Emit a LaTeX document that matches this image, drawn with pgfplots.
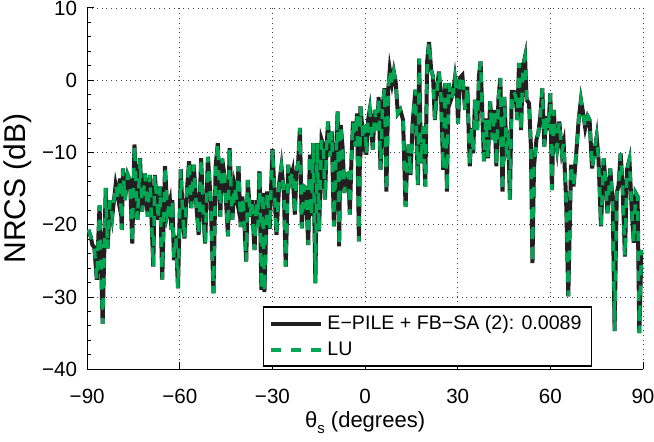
\documentclass[border=0pt]{standalone}
\usepackage{fontspec}
\setmainfont{Liberation Sans}
\usepackage{pgfplots}
\pgfplotsset{compat=1.18}
\usepackage{pgfplotstable}
\usetikzlibrary{calc}
\definecolor{luGreen}{RGB}{0,166,81}
\definecolor{pileBlack}{RGB}{35,31,32}

% NRCS vs scattering angle
\pgfplotstableread{
theta nrcs
-89.6 -20.7
-88.9 -21.6
-88.3 -22.8
-87.7 -23.1
-86.9 -27.6
-86.0 -17.3
-85.0 -33.7
-84.0 -14.9
-83.4 -23.3
-82.6 -16.6
-81.9 -18.9
-80.8 -14.5
-79.9 -16.6
-79.4 -13.6
-78.8 -20.7
-78.4 -12.2
-77.8 -16.6
-76.9 -13.1
-76.1 -14.0
-75.4 -22.6
-74.7 -8.9
-73.7 -19.3
-72.9 -10.8
-72.2 -18.2
-71.3 -12.9
-70.4 -18.9
-69.7 -13.1
-68.6 -25.8
-68.1 -13.1
-67.0 -19.3
-66.4 -14.7
-65.7 -27.6
-64.8 -11.9
-64.0 -18.4
-63.2 -16.8
-62.7 -20.7
-62.4 -16.6
-61.9 -24.9
-61.3 -21.5
-60.6 -28.8
-59.7 -12.3
-59.1 -18.4
-58.5 -21.9
-57.7 -15.2
-57.0 -11.2
-56.3 -17.7
-55.5 -11.7
-54.7 -17.0
-53.9 -21.4
-53.1 -10.8
-52.5 -17.9
-51.8 -22.6
-50.9 -10.6
-50.0 -16.6
-49.1 -29.5
-48.4 -11.9
-47.7 -8.7
-46.9 -18.9
-46.3 -10.8
-45.5 -13.3
-44.4 -21.6
-43.9 -9.4
-43.0 -19.3
-42.3 -14.7
-41.5 -16.6
-41.0 -11.9
-40.3 -20.3
-39.8 -16.1
-39.3 -17.9
-38.5 -25.1
-38.0 -13.8
-37.2 -18.9
-36.7 -16.6
-35.8 -23.5
-35.2 -16.6
-34.7 -20.3
-34.2 -12.6
-33.6 -29.0
-33.1 -15.6
-32.6 -29.3
-31.7 -15.4
-30.9 -20.6
-30.0 -9.5
-28.7 -21.4
-27.8 -14.2
-27.1 -11.9
-26.3 -15.6
-25.7 -25.8
-24.9 -11.7
-24.2 -13.8
-23.5 -12.6
-22.75 -18.6
-22.2 -12.6
-21.7 -11.5
-21.1 -6.6
-20.5 -20.5
-19.8 -14.7
-19.2 -14.9
-18.4 -22.8
-17.9 -10.3
-17.4 -18.8
-16.8 -8.7
-16.1 -28.1
-15.5 -8.7
-14.9 -20.9
-14.1 -8.2
-13.6 -8.9
-13.0 -16.5
-12.5 -9.6
-12.0 -5.7
-11.4 -10.6
-10.8 -7.1
-10.1 -20.2
-9.5 -11.5
-8.9 -4.3
-8.4 -23.0
-7.9 -6.2
-7.3 -9.2
-6.7 -15.6
-6.0 -13.1
-5.4 -12.9
-4.95 -18.6
-4.4 -10.8
-3.9 -5.7
-3.2 -9.2
-2.6 -4.6
-2.0 -22.3
-1.5 -3.6
-0.6 -8.2
0.0 -6.2
0.4 -10.3
0.9 -5.7
1.5 -4.1
2.0 -6.9
2.5 -9.6
3.1 -4.1
3.9 -6.9
4.4 -2.3
5.0 -12.4
5.6 -4.1
6.3 -1.1
6.9 -15.4
7.5 -1.3
8.0 1.5
8.7 -0.4
9.3 1.2
9.9 -0.2
10.6 -4.6
11.4 -4.1
12.3 -5.5
13.1 -17.5
13.6 -11.5
14.1 -8.9
14.7 -13.1
15.4 -5.9
16.3 -1.3
17.1 -14.5
17.5 3.0
18.1 -11.5
18.8 -6.4
19.5 -14.7
20.1 2.6
20.7 5.3
21.4 1.4
22.0 0.5
22.6 -5.5
23.1 -2.3
23.9 1.2
24.6 -2.3
25.3 -12.4
25.9 -0.4
26.5 -15.4
27.1 -0.4
27.8 -2.7
28.5 -1.8
29.1 0.3
29.8 -2.3
30.1 -6.0
30.65 0.3
31.5 0.7
32.4 -4.1
33.1 -0.9
33.9 -11.9
34.5 -6.6
35.0 -10.1
35.6 -2.7
36.3 -6.9
36.9 0.7
37.4 2.6
38.0 -5.0
38.5 -11.2
39.1 -5.3
39.8 -10.8
40.5 -2.9
41.2 -8.2
41.9 -4.1
42.5 -11.9
43.2 -2.5
43.8 0.3
44.5 -15.4
45.1 -2.3
45.75 -9.4
46.4 -8.2
46.9 -16.5
47.5 -1.6
48.2 -1.6
48.8 -2.3
49.3 -5.5
49.85 2.4
50.5 -6.9
51.1 1.9
51.8 3.3
52.3 -2.7
53.1 -3.2
53.7 -9.2
54.2 -25.3
54.7 -11.9
55.5 -8.2
56.1 -7.3
56.75 -5.0
57.4 -1.1
58.05 -9.2
58.7 -5.0
59.3 -6.9
60.0 -1.8
60.5 -15.2
61.1 -4.1
61.5 -7.1
62.15 -9.4
62.9 -5.7
63.7 -9.9
64.3 -8.7
65.1 -16.5
65.8 -29.9
66.7 -11.7
67.5 -14.7
68.3 -10.6
69.2 -5.3
69.9 -2.7
70.7 -4.8
71.3 -6.6
72.1 -5.0
72.7 -5.5
73.5 -12.2
74.2 -10.1
75.0 -7.8
75.6 -11.0
76.4 -20.2
77.25 -10.8
78.0 -14.7
78.5 -18.4
79.4 -12.2
80.2 -17.0
80.8 -34.7
81.5 -15.6
82.1 -14.5
82.75 -10.1
83.4 -14.7
84.15 -24.4
84.8 -12.4
85.6 -11.0
86.3 -17.5
87.0 -22.5
87.6 -15.6
88.25 -16.1
88.8 -35.0
89.5 -23.5
90.0 -26.0
}\nrcsdata

\begin{document}
\begin{tikzpicture}
\begin{axis}[
    name=ax,
    scale only axis,
    width=277.9pt,
    height=180.65pt,
    xmin=-90, xmax=90,
    ymin=-40, ymax=10,
    xtick={-90,-60,-30,0,30,60,90},
    xticklabels={−90,−60,−30,0,30,60,90},
    ytick={-40,-30,-20,-10,0,10},
    yticklabels={−40,−30,−20,−10,0,10},
    minor y tick num=4,
    axis x line*=bottom,
    axis y line*=left,
    tick align=inside,
    major tick length=3.5pt,
    minor tick length=2pt,
    tick style={black, line width=0.5pt},
    axis line style={black, line width=0.6pt},
    grid=major,
    major grid style={dotted, black!75, line width=0.45pt},
    ticklabel style={font=\fontsize{10.3}{12}\selectfont},
    xticklabel style={yshift=-6.5pt},
    yticklabel style={xshift=-1.5pt},
    xlabel={θ\raisebox{-0.5ex}{\fontsize{7.5}{8}\selectfont s} (degrees)},
    ylabel={NRCS (dB)},
    x label style={font=\fontsize{11}{12}\selectfont,
        at={(axis description cs:0.5,-0.1486)}, anchor=center},
    y label style={font=\fontsize{15}{16}\selectfont,
        at={(axis description cs:-0.1245,0.5)}, anchor=center},
    legend cell align=left,
    legend style={at={(rel axis cs:0.3158,0.0064)}, anchor=south west,
        draw=black, line width=0.75pt, fill=white,
        font=\fontsize{9.8}{11}\selectfont,
        row sep=0.8pt, inner xsep=3pt, inner ysep=2pt},
    legend image code/.code={\draw[#1] (0pt,0pt) -- (12.5pt,0pt) -- (25pt,0pt);},
]
\addplot[pileBlack, line width=2pt] table[x=theta, y=nrcs] {\nrcsdata};
\addlegendentry{E−PILE + FB−SA (2): 0.0089}
\addplot[luGreen, line width=1.7pt, dash pattern=on 5pt off 5pt] table[x=theta, y=nrcs] {\nrcsdata};
\addlegendentry{LU}
\end{axis}
\pgfresetboundingbox
\path ($(ax.south west)+(-43.6pt,-36.35pt)$) rectangle ($(ax.north east)+(5.5pt,4pt)$);
\end{tikzpicture}
\end{document}
